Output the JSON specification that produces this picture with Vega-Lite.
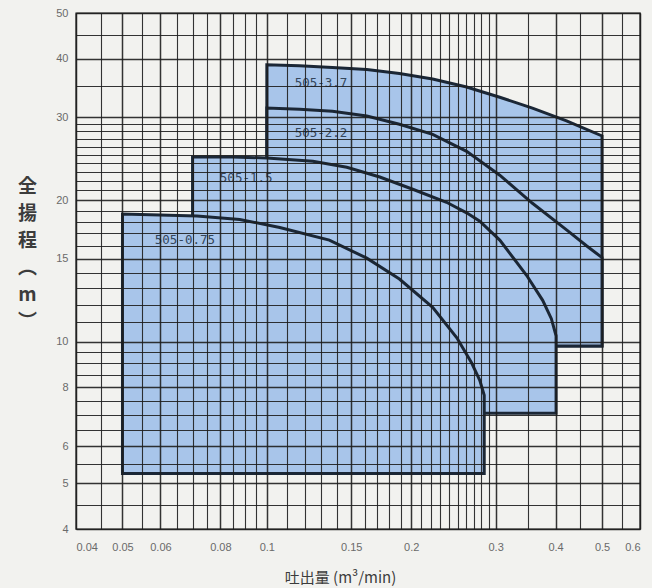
{
  "$schema": "https://vega.github.io/schema/vega-lite/v6.json",
  "autosize": {"type": "none"},
  "padding": {"left": 76, "top": 13, "right": 12, "bottom": 59},
  "width": 564,
  "height": 516,
  "background": "#f2f2ef",
  "config": {
    "view": {"stroke": "#1e1e1e", "strokeWidth": 1.4},
    "axis": {
      "labelFont": "Liberation Sans",
      "labelFontSize": 11,
      "labelColor": "#6a6a6a",
      "titleFont": "Noto Sans CJK JP",
      "titleColor": "#3c3c3c"
    }
  },
  "datasets": {
    "shapes": [
      {"model": "505-3.7", "seq": 1, "q": 0.1, "h": 9.8},
      {"model": "505-3.7", "seq": 2, "q": 0.1, "h": 38.8},
      {"model": "505-3.7", "seq": 3, "q": 0.117, "h": 38.6},
      {"model": "505-3.7", "seq": 4, "q": 0.137, "h": 38.3},
      {"model": "505-3.7", "seq": 5, "q": 0.1616, "h": 37.9},
      {"model": "505-3.7", "seq": 6, "q": 0.189, "h": 37.2},
      {"model": "505-3.7", "seq": 7, "q": 0.2217, "h": 36.2},
      {"model": "505-3.7", "seq": 8, "q": 0.261, "h": 34.8},
      {"model": "505-3.7", "seq": 9, "q": 0.306, "h": 33.1},
      {"model": "505-3.7", "seq": 10, "q": 0.358, "h": 31.4},
      {"model": "505-3.7", "seq": 11, "q": 0.4217, "h": 29.5},
      {"model": "505-3.7", "seq": 12, "q": 0.5, "h": 27.4},
      {"model": "505-3.7", "seq": 13, "q": 0.5, "h": 9.8},

      {"model": "505-2.2", "seq": 1, "q": 0.1, "h": 9.8},
      {"model": "505-2.2", "seq": 2, "q": 0.1, "h": 31.4},
      {"model": "505-2.2", "seq": 3, "q": 0.117, "h": 31.2},
      {"model": "505-2.2", "seq": 4, "q": 0.137, "h": 30.9},
      {"model": "505-2.2", "seq": 5, "q": 0.1616, "h": 30.2},
      {"model": "505-2.2", "seq": 6, "q": 0.189, "h": 29.0},
      {"model": "505-2.2", "seq": 7, "q": 0.2217, "h": 27.6},
      {"model": "505-2.2", "seq": 8, "q": 0.261, "h": 25.4},
      {"model": "505-2.2", "seq": 9, "q": 0.306, "h": 22.6},
      {"model": "505-2.2", "seq": 10, "q": 0.358, "h": 19.7},
      {"model": "505-2.2", "seq": 11, "q": 0.4217, "h": 17.3},
      {"model": "505-2.2", "seq": 12, "q": 0.464, "h": 16.0},
      {"model": "505-2.2", "seq": 13, "q": 0.5, "h": 15.1},
      {"model": "505-2.2", "seq": 14, "q": 0.5, "h": 9.8},

      {"model": "505-1.5", "seq": 1, "q": 0.07, "h": 7.05},
      {"model": "505-1.5", "seq": 2, "q": 0.07, "h": 24.7},
      {"model": "505-1.5", "seq": 3, "q": 0.085, "h": 24.7},
      {"model": "505-1.5", "seq": 4, "q": 0.1, "h": 24.6},
      {"model": "505-1.5", "seq": 5, "q": 0.1247, "h": 24.2},
      {"model": "505-1.5", "seq": 6, "q": 0.1468, "h": 23.5},
      {"model": "505-1.5", "seq": 7, "q": 0.172, "h": 22.4},
      {"model": "505-1.5", "seq": 8, "q": 0.2015, "h": 21.1},
      {"model": "505-1.5", "seq": 9, "q": 0.237, "h": 19.8},
      {"model": "505-1.5", "seq": 10, "q": 0.261, "h": 18.8},
      {"model": "505-1.5", "seq": 11, "q": 0.278, "h": 18.05},
      {"model": "505-1.5", "seq": 12, "q": 0.306, "h": 16.45},
      {"model": "505-1.5", "seq": 13, "q": 0.348, "h": 13.85},
      {"model": "505-1.5", "seq": 14, "q": 0.376, "h": 12.25},
      {"model": "505-1.5", "seq": 15, "q": 0.392, "h": 11.2},
      {"model": "505-1.5", "seq": 16, "q": 0.401, "h": 10.3},
      {"model": "505-1.5", "seq": 17, "q": 0.401, "h": 7.05},

      {"model": "505-0.75", "seq": 1, "q": 0.05, "h": 5.25},
      {"model": "505-0.75", "seq": 2, "q": 0.05, "h": 18.7},
      {"model": "505-0.75", "seq": 3, "q": 0.0598, "h": 18.6},
      {"model": "505-0.75", "seq": 4, "q": 0.0715, "h": 18.5},
      {"model": "505-0.75", "seq": 5, "q": 0.0878, "h": 18.2},
      {"model": "505-0.75", "seq": 6, "q": 0.1064, "h": 17.5},
      {"model": "505-0.75", "seq": 7, "q": 0.135, "h": 16.45},
      {"model": "505-0.75", "seq": 8, "q": 0.1616, "h": 15.06},
      {"model": "505-0.75", "seq": 9, "q": 0.189, "h": 13.6},
      {"model": "505-0.75", "seq": 10, "q": 0.2217, "h": 11.84},
      {"model": "505-0.75", "seq": 11, "q": 0.249, "h": 10.2},
      {"model": "505-0.75", "seq": 12, "q": 0.267, "h": 9.04},
      {"model": "505-0.75", "seq": 13, "q": 0.278, "h": 8.28},
      {"model": "505-0.75", "seq": 14, "q": 0.284, "h": 7.7},
      {"model": "505-0.75", "seq": 15, "q": 0.284, "h": 5.25}
    ],
    "labels": [
      {"model": "505-3.7", "q": 0.1143, "h": 35.5},
      {"model": "505-2.2", "q": 0.1143, "h": 27.8},
      {"model": "505-1.5", "q": 0.0798, "h": 22.3},
      {"model": "505-0.75", "q": 0.0584, "h": 16.45}
    ]
  },
  "encoding": {
    "x": {
      "field": "q",
      "type": "quantitative",
      "scale": {"type": "log", "domain": [0.04, 0.6], "nice": false},
      "axis": {
        "values": [0.04, 0.045, 0.05, 0.055, 0.06, 0.065, 0.07, 0.075, 0.08, 0.085, 0.09, 0.095, 0.1, 0.11, 0.12, 0.13, 0.14, 0.15, 0.16, 0.17, 0.18, 0.19, 0.2, 0.21, 0.22, 0.23, 0.24, 0.25, 0.26, 0.27, 0.28, 0.29, 0.3, 0.35, 0.4, 0.45, 0.5, 0.55, 0.6],
        "labelExpr": "indexof([0.04, 0.05, 0.06, 0.08, 0.1, 0.15, 0.2, 0.3, 0.4, 0.5, 0.6], datum.value) >= 0 ? format(datum.value, '~g') : ''",
        "labelOverlap": false,
        "labelFlush": true,
        "labelPadding": 12,
        "ticks": false,
        "domain": false,
        "grid": true,
        "gridColor": "#1e1e1e",
        "gridOpacity": 0.9,
        "gridWidth": {"condition": {"test": "indexof([0.04, 0.05, 0.06, 0.08, 0.1, 0.15, 0.2, 0.3, 0.4, 0.5, 0.6], datum.value) >= 0", "value": 1.5}, "value": 1.1},
        "zindex": 1,
        "title": "吐出量 (m³/min)",
        "titleFontSize": 15,
        "titleFontWeight": "normal",
        "titleX": 264,
        "titleY": 48,
        "titleBaseline": "middle",
        "titleAlign": "center"
      }
    },
    "y": {
      "field": "h",
      "type": "quantitative",
      "scale": {"type": "log", "domain": [4, 50], "nice": false},
      "axis": {
        "values": [4, 4.5, 5, 5.5, 6, 6.5, 7, 7.5, 8, 8.5, 9, 9.5, 10, 11, 12, 13, 14, 15, 16, 17, 18, 19, 20, 21, 22, 23, 24, 25, 26, 27, 28, 29, 30, 35, 40, 45, 50],
        "labelExpr": "indexof([4, 5, 6, 8, 10, 15, 20, 30, 40, 50], datum.value) >= 0 ? format(datum.value, '~g') : ''",
        "labelOverlap": false,
        "labelPadding": 8,
        "ticks": false,
        "domain": false,
        "grid": true,
        "gridColor": "#1e1e1e",
        "gridOpacity": 0.9,
        "gridWidth": {"condition": {"test": "indexof([4, 5, 6, 8, 10, 15, 20, 30, 40, 50], datum.value) >= 0", "value": 1.5}, "value": 1.1},
        "zindex": 1,
        "title": ["全", "揚", "程", "︵", "m", "︶"],
        "titleAngle": 0,
        "titleFontSize": 19,
        "titleFontWeight": "bold",
        "titleLineHeight": 27,
        "titleX": -49,
        "titleY": 164,
        "titleAlign": "center",
        "titleBaseline": "top"
      }
    }
  },
  "layer": [
    {
      "data": {"name": "shapes"},
      "transform": [{"filter": "datum.model == '505-3.7'"}],
      "mark": {"type": "line", "interpolate": "linear-closed", "fill": "#a8c5ea", "stroke": "#1b2736", "strokeWidth": 3, "strokeJoin": "miter"},
      "encoding": {"order": {"field": "seq", "type": "quantitative"}}
    },
    {
      "data": {"name": "shapes"},
      "transform": [{"filter": "datum.model == '505-2.2'"}],
      "mark": {"type": "line", "interpolate": "linear-closed", "fill": "#a8c5ea", "stroke": "#1b2736", "strokeWidth": 3, "strokeJoin": "miter"},
      "encoding": {"order": {"field": "seq", "type": "quantitative"}}
    },
    {
      "data": {"name": "shapes"},
      "transform": [{"filter": "datum.model == '505-1.5'"}],
      "mark": {"type": "line", "interpolate": "linear-closed", "fill": "#a8c5ea", "stroke": "#1b2736", "strokeWidth": 3, "strokeJoin": "miter"},
      "encoding": {"order": {"field": "seq", "type": "quantitative"}}
    },
    {
      "data": {"name": "shapes"},
      "transform": [{"filter": "datum.model == '505-0.75'"}],
      "mark": {"type": "line", "interpolate": "linear-closed", "fill": "#a8c5ea", "stroke": "#1b2736", "strokeWidth": 3, "strokeJoin": "miter"},
      "encoding": {"order": {"field": "seq", "type": "quantitative"}}
    },
    {
      "data": {"name": "labels"},
      "mark": {"type": "text", "align": "left", "baseline": "middle", "font": "DejaVu Sans Mono", "fontSize": 12.5, "fill": "#34465c"},
      "encoding": {"text": {"field": "model"}}
    }
  ]
}
